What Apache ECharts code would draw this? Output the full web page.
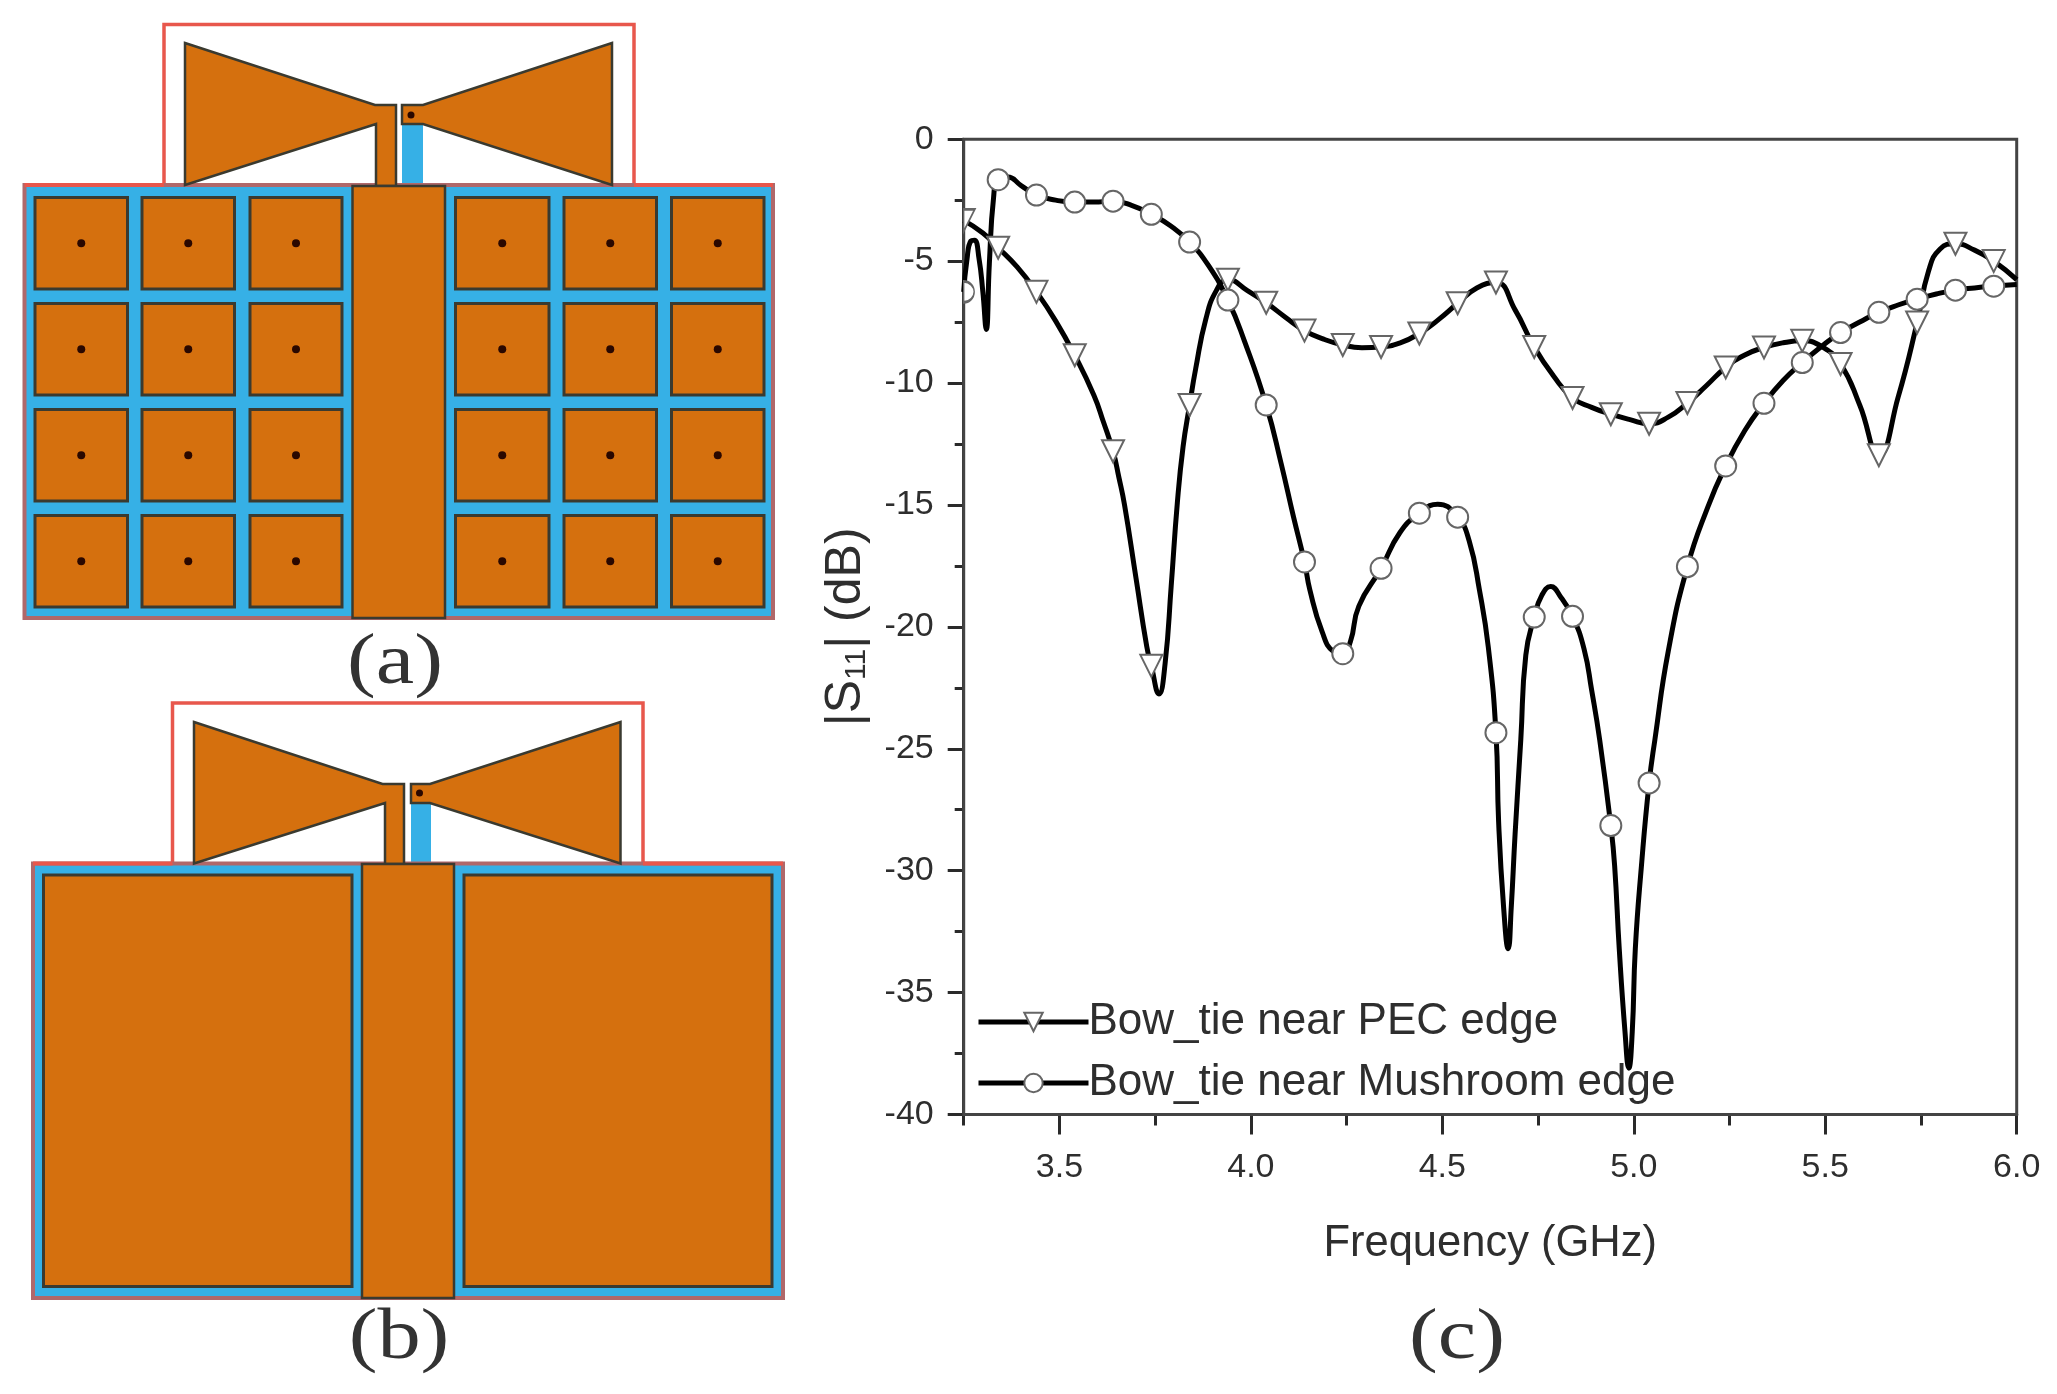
<!DOCTYPE html>
<html>
<head>
<meta charset="utf-8">
<style>html,body{margin:0;padding:0;background:#fff}#c{width:2057px;height:1394px}</style>
<script src="https://cdn.jsdelivr.net/npm/echarts@6/dist/echarts.min.js"></script>
</head>
<body>
<div id="c"></div>
<script>
// ---------- S11 curves ----------
const markerFreq = [3.34,3.44,3.54,3.64,3.74,3.84,3.94,4.04,4.14,4.24,4.34,4.44,4.54,4.64,4.74,4.84,4.94,5.04,5.14,5.24,5.34,5.44,5.54,5.64,5.74,5.84,5.94];

const pecFreq = [3.25,3.30,3.34,3.39,3.44,3.49,3.54,3.59,3.615,3.64,3.655,3.67,3.70,3.728,3.74,3.76,3.776,3.792,3.808,3.823,3.84,3.856,3.882,3.91,3.94,3.99,4.04,4.09,4.14,4.19,4.24,4.29,4.34,4.39,4.44,4.49,4.54,4.59,4.64,4.69,4.74,4.79,4.84,4.89,4.94,4.99,5.04,5.09,5.14,5.19,5.24,5.29,5.34,5.39,5.44,5.49,5.54,5.59,5.64,5.69,5.74,5.77,5.80,5.84,5.89,5.94,6.0];
const pecDb   = [-3.33,-3.85,-4.45,-5.25,-6.26,-7.45,-8.86,-10.5,-11.6,-12.8,-13.85,-15.0,-18.0,-20.8,-21.6,-22.75,-21.5,-18.3,-14.9,-12.6,-10.9,-9.4,-7.4,-6.2,-5.76,-6.2,-6.71,-7.3,-7.85,-8.2,-8.44,-8.55,-8.52,-8.35,-7.97,-7.4,-6.73,-6.1,-5.88,-7.0,-8.52,-9.7,-10.61,-11.0,-11.28,-11.5,-11.67,-11.4,-10.82,-10.1,-9.36,-8.85,-8.54,-8.35,-8.27,-8.5,-9.22,-10.9,-12.96,-10.6,-7.52,-5.4,-4.5,-4.29,-4.55,-5.0,-5.76];

const mushFreq = [3.25,3.258,3.269,3.278,3.29,3.30,3.309,3.317,3.328,3.34,3.365,3.40,3.44,3.49,3.54,3.59,3.64,3.69,3.74,3.79,3.84,3.89,3.94,3.983,4.04,4.079,4.111,4.14,4.154,4.186,4.215,4.24,4.26,4.282,4.34,4.389,4.44,4.488,4.54,4.57,4.597,4.62,4.64,4.647,4.66,4.672,4.68,4.69,4.705,4.718,4.74,4.76,4.783,4.81,4.84,4.87,4.89,4.911,4.94,4.95,4.962,4.977,4.987,4.996,5.004,5.02,5.04,5.055,5.09,5.14,5.193,5.24,5.29,5.34,5.39,5.44,5.49,5.54,5.59,5.64,5.69,5.74,5.79,5.84,5.89,5.94,6.0];
const mushDb   = [-6.26,-5.0,-4.17,-4.14,-4.9,-6.26,-7.8,-5.1,-2.4,-1.66,-1.55,-1.9,-2.29,-2.5,-2.58,-2.58,-2.54,-2.72,-3.08,-3.55,-4.22,-5.2,-6.6,-8.27,-10.9,-13.3,-15.47,-17.34,-18.48,-20.2,-21.0,-21.1,-20.6,-19.15,-17.6,-16.14,-15.34,-14.97,-15.5,-16.47,-18.5,-20.83,-24.34,-28.0,-31.5,-33.2,-31.5,-28.5,-24.6,-21.16,-19.6,-18.7,-18.35,-18.8,-19.57,-20.9,-22.6,-24.64,-28.15,-29.8,-33.2,-36.6,-38.1,-36.6,-33.2,-29.8,-26.4,-24.64,-21.0,-17.53,-15.1,-13.4,-11.95,-10.83,-9.9,-9.16,-8.5,-7.93,-7.5,-7.1,-6.8,-6.56,-6.35,-6.19,-6.1,-6.03,-5.96];

const xMajorTicks = [3.5,4.0,4.5,5.0,5.5,6.0];
const xMinorTicks = [3.25,3.75,4.25,4.75,5.25,5.75];
const seriesNames = ['Bow_tie near PEC edge','Bow_tie near Mushroom edge'];

// ---------- schematics (a) and (b), in schematic units ----------
const colsA = [[35,127.5],[142,234.5],[250,342],[455.5,549],[564,656.5],[671.5,764]];
const rowsA = [[197.5,289],[303.5,395],[409.5,501],[515.5,607]];
const colsB = [[43.5,352],[464,772]];
const rowsB = [[875,1286.5]];
const panelA = {sub:[24.5,773,185,618],air:[164,634,24.5],center:[352.5,445,186],
  leftWing:[[185,43],[375,105],[396,105],[396,186],[376,186],[376,124],[185,185]],
  rightWing:[[612,43],[423,105],[402,105],[402,124],[423,124],[612,185]],
  strip:[402,423,124,186],via:[411,115]};
const panelB = {sub:[33,783,863.5,1298],air:[172.5,643,703],center:[362,454,864],
  leftWing:[[194,722],[382.5,784],[404,784],[404,864],[385,864],[385,803],[194,863.5]],
  rightWing:[[620.5,722],[430,784],[411,784],[411,803],[430,803],[620.5,863.5]],
  strip:[411,431,803,864],via:[419.5,793]};
const captions = [['(a)',395,664],['(b)',399,1339],['(c)',1457,1339]];

const ORANGE='#d5700e', BLUE='#36b0e6', RED='#e8574c', EDGE='#3a3a30';
const shapes=[];
const box=(x0,x1,y0,y1)=>[[x0,y0],[x1,y0],[x1,y1],[x0,y1]];
function addPanel(p,cols,rows,vias){
  const [sx0,sx1,sy0,sy1]=p.sub,[ax0,ax1,ay]=p.air;
  shapes.push({k:'line',pts:[[ax0,sy0],[ax0,ay],[ax1,ay],[ax1,sy0]],stroke:RED,w:3.5});
  shapes.push({k:'poly',pts:box(...p.strip),fill:BLUE});
  shapes.push({k:'poly',pts:box(sx0,sx1,sy0,sy1),fill:BLUE,stroke:'#b0686a',w:4});
  shapes.push({k:'line',pts:[[sx0,sy0],[ax0,sy0]],stroke:RED,w:4});
  shapes.push({k:'line',pts:[[ax1,sy0],[sx1,sy0]],stroke:RED,w:4});
  cols.forEach(c=>rows.forEach(r=>{
    shapes.push({k:'poly',pts:box(c[0],c[1],r[0],r[1]),fill:ORANGE,stroke:EDGE,w:3});
    if(vias) shapes.push({k:'dot',c:[(c[0]+c[1])/2,(r[0]+r[1])/2],r:4});
  }));
  shapes.push({k:'poly',pts:p.leftWing,fill:ORANGE,stroke:EDGE,w:2.5});
  shapes.push({k:'poly',pts:p.rightWing,fill:ORANGE,stroke:EDGE,w:2.5});
  shapes.push({k:'poly',pts:box(p.center[0],p.center[1],p.center[2],sy1),fill:ORANGE,stroke:EDGE,w:2.5});
  shapes.push({k:'dot',c:p.via,r:3.5});
}
addPanel(panelA,colsA,rowsA,true);
addPanel(panelB,colsB,rowsB,false);
captions.forEach(c=>shapes.push({k:'text',t:c[0],c:[c[1],c[2]]}));

function renderShape(params,api){
  const s=shapes[params.dataIndex];
  if(s.k==='dot'){
    const c=api.coord(s.c);
    return {type:'circle',shape:{cx:c[0],cy:c[1],r:api.size([s.r,0])[0]},style:{fill:'#2a0800'}};
  }
  if(s.k==='text'){
    const c=api.coord(s.c);
    return {type:'text',x:c[0],y:c[1],scaleX:1.2,style:{x:0,y:0,text:s.t,fill:'#333',font:'72px "Liberation Serif"',align:'center',verticalAlign:'middle'}};
  }
  const pts=s.pts.map(p=>api.coord(p));
  if(s.k==='line') return {type:'polyline',shape:{points:pts},style:{fill:null,stroke:s.stroke,lineWidth:s.w}};
  return {type:'polygon',shape:{points:pts},style:{fill:s.fill,stroke:s.stroke||null,lineWidth:s.w||0}};
}

// ---------- S11 series builder ----------
const HALF_TRI='path://M0,0 L11,0 L0,22 Z', HALF_CIR='path://M0,0 A10.5,10.5 0 0 1 0,21 Z';
function curve(freq,db,first){
  return freq.map((f,i)=>{
    const item={value:[f,db[i]]};
    if(i===0) Object.assign(item,first);
    else if(!markerFreq.includes(f)) item.symbol='none';
    return item;
  });
}
function sObj(name,data,symbol,size,rot){
  return {name,type:'line',xAxisIndex:0,yAxisIndex:0,data,smooth:0.5,showSymbol:true,showAllSymbol:true,
    symbol,symbolSize:size,symbolRotate:rot,clip:false,animation:false,z:5,
    lineStyle:{color:'#000',width:5},itemStyle:{color:'#fff',borderColor:'#666',borderWidth:2},
    emphasis:{disabled:true}};
}

const AXC='#2a2a2a', TXT='#2e2e2e', FONT='"Liberation Sans"';
const chart=echarts.init(document.getElementById('c'),null,{renderer:'canvas'});
chart.setOption({
  backgroundColor:'#fff',
  animation:false,
  textStyle:{fontFamily:FONT},
  legend:{
    left:971,top:995,orient:'vertical',itemWidth:110,itemHeight:23,itemGap:17,
    selectedMode:false,data:seriesNames,
    lineStyle:{width:5,color:'#000'},
    textStyle:{fontSize:44,fontFamily:FONT,color:TXT,padding:[0,0,0,-5]}
  },
  grid:[
    {left:963.7,top:139.2,width:1053,height:975.3,show:true,borderColor:'#444',borderWidth:3,backgroundColor:'transparent',z:3},
    {left:0,top:0,width:2057,height:1394,show:false,z:0}
  ],
  xAxis:[
    {type:'value',gridIndex:0,min:3.25,max:6,position:'bottom',
     axisLine:{onZero:false,lineStyle:{color:AXC,width:3}},
     axisTick:{length:20,customValues:xMajorTicks,lineStyle:{color:AXC,width:3}},
     axisLabel:{customValues:xMajorTicks,margin:36,fontSize:34,color:TXT,fontFamily:FONT,formatter:v=>v.toFixed(1)},
     splitLine:{show:false},
     name:'Frequency (GHz)',nameLocation:'middle',nameGap:107,nameTextStyle:{fontSize:43.5,color:TXT,fontFamily:FONT}},
    {type:'value',gridIndex:0,min:3.25,max:6,position:'bottom',
     axisLine:{show:false,onZero:false},
     axisTick:{length:11,customValues:xMinorTicks,lineStyle:{color:AXC,width:3}},
     axisLabel:{show:false},splitLine:{show:false}},
    {type:'value',gridIndex:1,min:0,max:2057,show:false}
  ],
  yAxis:[
    {type:'value',gridIndex:0,min:-40,max:0,interval:5,position:'left',
     axisLine:{show:true,onZero:false,lineStyle:{color:AXC,width:3}},
     axisTick:{show:true,length:16,lineStyle:{color:AXC,width:3}},
     minorTick:{show:true,splitNumber:2,length:9,lineStyle:{color:AXC,width:3}},
     axisLabel:{margin:30,fontSize:34,color:TXT,fontFamily:FONT},
     splitLine:{show:false},minorSplitLine:{show:false},
     name:'|S{sub|11}| (dB)',nameLocation:'middle',nameRotate:90,nameGap:92,
     nameTextStyle:{fontSize:50,color:TXT,fontFamily:FONT,
       rich:{sub:{fontSize:30,color:TXT,fontFamily:FONT,verticalAlign:'bottom',lineHeight:44}}}},
    {type:'value',gridIndex:1,min:0,max:1394,inverse:true,show:false}
  ],
  series:[
    {type:'custom',xAxisIndex:2,yAxisIndex:1,coordinateSystem:'cartesian2d',clip:false,silent:true,z:1,
     data:shapes.map((s,i)=>[0,0,i]),encode:{x:0,y:1},renderItem:renderShape,animation:false},
    sObj(seriesNames[0],curve(pecFreq,pecDb,{symbol:HALF_TRI,symbolSize:[11,22],symbolOffset:[5.5,0],symbolRotate:0}),'triangle',22,180),
    sObj(seriesNames[1],curve(mushFreq,mushDb,{symbol:HALF_CIR,symbolSize:[10.5,21],symbolOffset:[5.25,0]}),'circle',21,0)
  ]
});
</script>
</body>
</html>
